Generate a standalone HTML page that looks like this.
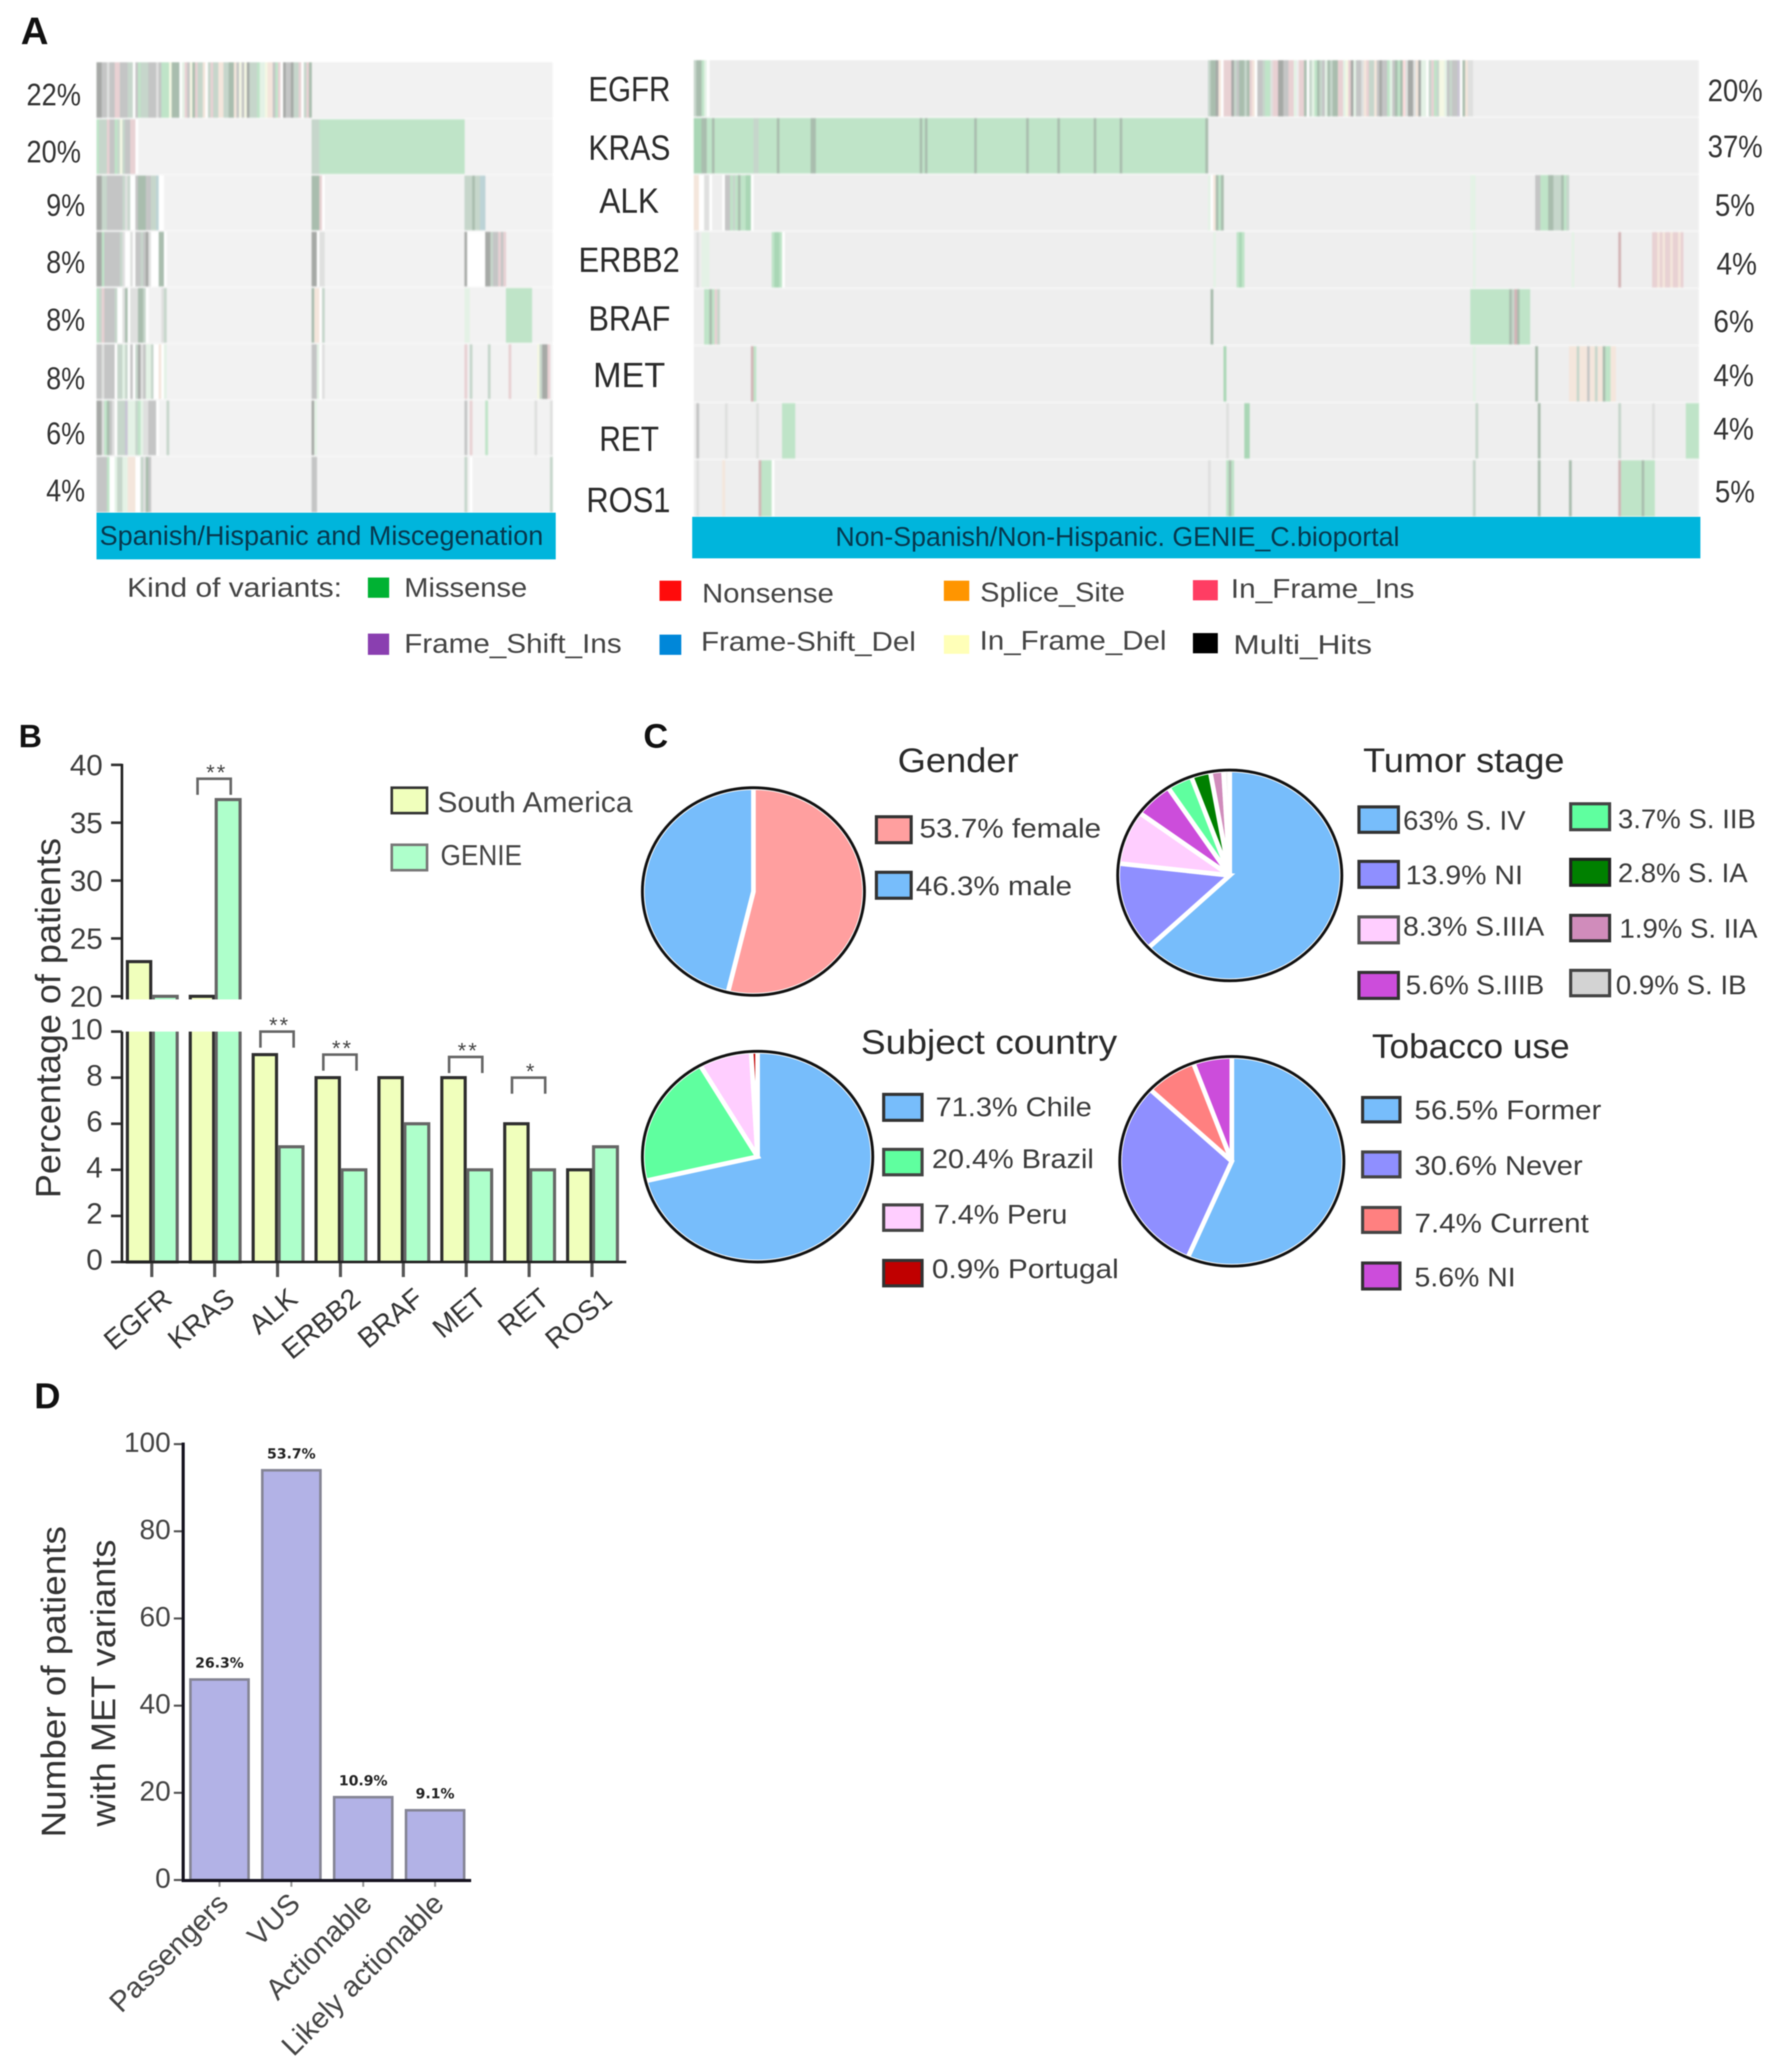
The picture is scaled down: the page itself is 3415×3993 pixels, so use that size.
<!DOCTYPE html>
<html lang="en">
<head>
<meta charset="utf-8">
<title>Genomic and clinical characteristics figure</title>
<style>
html,body{margin:0;padding:0;background:#fff;width:3415px;height:3993px;overflow:hidden}
svg{display:block;filter:blur(1.1px)}
text{font-family:"Liberation Sans",sans-serif;fill:#333}
.panel{font-weight:bold;fill:#111}
.gene{font-size:68px;fill:#2b2b2b}
.pct{font-size:60px;fill:#333}
.leg{font-size:52px;fill:#444}
.lgc{font-size:52px;fill:#3a3a3a}
.ttl{font-size:66px;fill:#2a2a2a}
#heatLeft,#heatRight{filter:blur(1.4px)}
</style>
</head>
<body>
<svg id="fig" xmlns="http://www.w3.org/2000/svg" width="3415" height="3993" viewBox="0 0 3415 3993">
  <rect x="0" y="0" width="3415" height="3993" fill="#fff"/>

  <text class="panel" x="40" y="85" font-size="74">A</text>
  <text class="panel" x="36" y="1440" font-size="62">B</text>
  <text class="panel" x="1240" y="1441" font-size="66">C</text>
  <text class="panel" x="66" y="2714" font-size="70">D</text>

  <g id="heatLeft"></g>
  <g id="heatRight"></g>

  <rect x="186" y="988" width="885" height="90" fill="#00b5dc"/>
  <rect x="1334" y="996" width="1943" height="80" fill="#00b5dc"/>
  <text x="192" y="1050" font-size="52" textLength="855" lengthAdjust="spacingAndGlyphs" style="fill:#07384e">Spanish/Hispanic and Miscegenation</text>
  <text x="1610" y="1052" font-size="52" textLength="1087" lengthAdjust="spacingAndGlyphs" style="fill:#07384e">Non-Spanish/Non-Hispanic. GENIE_C.bioportal</text>

  <g>
    <text class="gene" x="1134" y="195" textLength="158" lengthAdjust="spacingAndGlyphs">EGFR</text>
    <text class="gene" x="1134" y="308" textLength="158" lengthAdjust="spacingAndGlyphs">KRAS</text>
    <text class="gene" x="1155" y="410" textLength="115" lengthAdjust="spacingAndGlyphs">ALK</text>
    <text class="gene" x="1115" y="524" textLength="195" lengthAdjust="spacingAndGlyphs">ERBB2</text>
    <text class="gene" x="1134" y="637" textLength="158" lengthAdjust="spacingAndGlyphs">BRAF</text>
    <text class="gene" x="1143" y="746" textLength="139" lengthAdjust="spacingAndGlyphs">MET</text>
    <text class="gene" x="1155" y="869" textLength="115" lengthAdjust="spacingAndGlyphs">RET</text>
    <text class="gene" x="1130" y="987" textLength="162" lengthAdjust="spacingAndGlyphs">ROS1</text>
  </g>

  <g>
    <text class="pct" x="51" y="203" textLength="105" lengthAdjust="spacingAndGlyphs">22%</text>
    <text class="pct" x="51" y="313" textLength="105" lengthAdjust="spacingAndGlyphs">20%</text>
    <text class="pct" x="89" y="416" textLength="75" lengthAdjust="spacingAndGlyphs">9%</text>
    <text class="pct" x="89" y="526" textLength="75" lengthAdjust="spacingAndGlyphs">8%</text>
    <text class="pct" x="89" y="637" textLength="75" lengthAdjust="spacingAndGlyphs">8%</text>
    <text class="pct" x="89" y="750" textLength="75" lengthAdjust="spacingAndGlyphs">8%</text>
    <text class="pct" x="89" y="856" textLength="75" lengthAdjust="spacingAndGlyphs">6%</text>
    <text class="pct" x="89" y="966" textLength="75" lengthAdjust="spacingAndGlyphs">4%</text>
  </g>
  <g>
    <text class="pct" x="3291" y="195" textLength="106" lengthAdjust="spacingAndGlyphs">20%</text>
    <text class="pct" x="3291" y="303" textLength="106" lengthAdjust="spacingAndGlyphs">37%</text>
    <text class="pct" x="3305" y="416" textLength="77" lengthAdjust="spacingAndGlyphs">5%</text>
    <text class="pct" x="3308" y="529" textLength="78" lengthAdjust="spacingAndGlyphs">4%</text>
    <text class="pct" x="3302" y="640" textLength="78" lengthAdjust="spacingAndGlyphs">6%</text>
    <text class="pct" x="3302" y="744" textLength="78" lengthAdjust="spacingAndGlyphs">4%</text>
    <text class="pct" x="3302" y="847" textLength="78" lengthAdjust="spacingAndGlyphs">4%</text>
    <text class="pct" x="3305" y="968" textLength="77" lengthAdjust="spacingAndGlyphs">5%</text>
  </g>

  <g>
    <text class="leg" x="245" y="1150" textLength="414" lengthAdjust="spacingAndGlyphs">Kind of variants:</text>
    <rect x="709" y="1113" width="41" height="39" fill="#00b233"/>
    <text class="leg" x="779" y="1150" textLength="237" lengthAdjust="spacingAndGlyphs">Missense</text>
    <rect x="1271" y="1119" width="42" height="39" fill="#ff0b0b"/>
    <text class="leg" x="1353" y="1161" textLength="254" lengthAdjust="spacingAndGlyphs">Nonsense</text>
    <rect x="1819" y="1119" width="49" height="39" fill="#ff9500"/>
    <text class="leg" x="1889" y="1159" textLength="279" lengthAdjust="spacingAndGlyphs">Splice_Site</text>
    <rect x="2299" y="1118" width="48" height="39" fill="#ff3d63"/>
    <text class="leg" x="2372" y="1152" textLength="354" lengthAdjust="spacingAndGlyphs">In_Frame_Ins</text>
    <rect x="709" y="1221" width="41" height="41" fill="#8a3fb0"/>
    <text class="leg" x="779" y="1258" textLength="419" lengthAdjust="spacingAndGlyphs">Frame_Shift_Ins</text>
    <rect x="1271" y="1223" width="42" height="39" fill="#0087d9"/>
    <text class="leg" x="1351" y="1254" textLength="414" lengthAdjust="spacingAndGlyphs">Frame-Shift_Del</text>
    <rect x="1819" y="1224" width="49" height="36" fill="#ffffb8"/>
    <text class="leg" x="1888" y="1252" textLength="360" lengthAdjust="spacingAndGlyphs">In_Frame_Del</text>
    <rect x="2299" y="1220" width="48" height="39" fill="#000"/>
    <text class="leg" x="2377" y="1260" textLength="267" lengthAdjust="spacingAndGlyphs">Multi_Hits</text>
  </g>

  <g id="chartB"></g>
  <text font-size="68" transform="translate(116,2309) rotate(-90)" textLength="694" lengthAdjust="spacingAndGlyphs" style="fill:#333">Percentage of patients</text>
  <g>
    <rect x="755" y="1518" width="68" height="49" fill="#f0ffbc" stroke="#333" stroke-width="5"/>
    <text x="843" y="1565" font-size="56" textLength="376" lengthAdjust="spacingAndGlyphs" style="fill:#444">South America</text>
    <rect x="755" y="1628" width="68" height="49" fill="#aeffcb" stroke="#777" stroke-width="5"/>
    <text x="849" y="1667" font-size="56" textLength="157" lengthAdjust="spacingAndGlyphs" style="fill:#444">GENIE</text>
  </g>

  <g id="pieGender"></g>
  <g id="pieTumor"></g>
  <g id="pieCountry"></g>
  <g id="pieTobacco"></g>

  <text class="ttl" x="1730" y="1488" textLength="233" lengthAdjust="spacingAndGlyphs">Gender</text>
  <text class="ttl" x="2627" y="1488" textLength="388" lengthAdjust="spacingAndGlyphs">Tumor stage</text>
  <text class="ttl" x="1659" y="2031" textLength="494" lengthAdjust="spacingAndGlyphs">Subject country</text>
  <text class="ttl" x="2644" y="2039" textLength="381" lengthAdjust="spacingAndGlyphs">Tobacco use</text>

  <g>
    <rect x="1689" y="1574" width="67" height="50" fill="#ff9f9f" stroke="#333" stroke-width="6"/>
    <text class="lgc" x="1772" y="1614" textLength="350" lengthAdjust="spacingAndGlyphs">53.7% female</text>
    <rect x="1689" y="1681" width="67" height="50" fill="#77bdfb" stroke="#333" stroke-width="6"/>
    <text class="lgc" x="1765" y="1725" textLength="301" lengthAdjust="spacingAndGlyphs">46.3% male</text>
  </g>
  <g>
    <rect x="2619" y="1555" width="76" height="49" fill="#77bdfb" stroke="#333" stroke-width="6"/>
    <text class="lgc" x="2704" y="1599" textLength="236" lengthAdjust="spacingAndGlyphs">63% S. IV</text>
    <rect x="2619" y="1660" width="76" height="50" fill="#8f8fff" stroke="#333" stroke-width="6"/>
    <text class="lgc" x="2709" y="1704" textLength="226" lengthAdjust="spacingAndGlyphs">13.9% NI</text>
    <rect x="2619" y="1767" width="76" height="50" fill="#ffceff" stroke="#555" stroke-width="6"/>
    <text class="lgc" x="2704" y="1803" textLength="272" lengthAdjust="spacingAndGlyphs">8.3% S.IIIA</text>
    <rect x="2619" y="1874" width="76" height="50" fill="#cc4ddb" stroke="#333" stroke-width="6"/>
    <text class="lgc" x="2709" y="1916" textLength="267" lengthAdjust="spacingAndGlyphs">5.6% S.IIIB</text>
    <rect x="3027" y="1549" width="75" height="50" fill="#5fff9f" stroke="#444" stroke-width="6"/>
    <text class="lgc" x="3118" y="1596" textLength="266" lengthAdjust="spacingAndGlyphs">3.7% S. IIB</text>
    <rect x="3027" y="1656" width="75" height="50" fill="#008000" stroke="#222" stroke-width="6"/>
    <text class="lgc" x="3118" y="1700" textLength="250" lengthAdjust="spacingAndGlyphs">2.8% S. IA</text>
    <rect x="3027" y="1764" width="75" height="49" fill="#d08cbb" stroke="#333" stroke-width="6"/>
    <text class="lgc" x="3121" y="1807" textLength="266" lengthAdjust="spacingAndGlyphs">1.9% S. IIA</text>
    <rect x="3027" y="1870" width="75" height="49" fill="#d3d3d3" stroke="#444" stroke-width="6"/>
    <text class="lgc" x="3114" y="1916" textLength="252" lengthAdjust="spacingAndGlyphs">0.9% S. IB</text>
  </g>
  <g>
    <rect x="1703" y="2109" width="74" height="50" fill="#77bdfb" stroke="#333" stroke-width="6"/>
    <text class="lgc" x="1803" y="2151" textLength="301" lengthAdjust="spacingAndGlyphs">71.3% Chile</text>
    <rect x="1703" y="2215" width="74" height="49" fill="#5fff9f" stroke="#444" stroke-width="6"/>
    <text class="lgc" x="1796" y="2251" textLength="312" lengthAdjust="spacingAndGlyphs">20.4% Brazil</text>
    <rect x="1703" y="2322" width="74" height="49" fill="#ffceff" stroke="#444" stroke-width="6"/>
    <text class="lgc" x="1800" y="2358" textLength="257" lengthAdjust="spacingAndGlyphs">7.4% Peru</text>
    <rect x="1703" y="2429" width="74" height="49" fill="#c00000" stroke="#333" stroke-width="6"/>
    <text class="lgc" x="1796" y="2463" textLength="360" lengthAdjust="spacingAndGlyphs">0.9% Portugal</text>
  </g>
  <g>
    <rect x="2626" y="2115" width="72" height="47" fill="#77bdfb" stroke="#333" stroke-width="6"/>
    <text class="lgc" x="2726" y="2157" textLength="360" lengthAdjust="spacingAndGlyphs">56.5% Former</text>
    <rect x="2626" y="2220" width="72" height="48" fill="#8f8fff" stroke="#444" stroke-width="6"/>
    <text class="lgc" x="2726" y="2264" textLength="324" lengthAdjust="spacingAndGlyphs">30.6% Never</text>
    <rect x="2626" y="2327" width="72" height="48" fill="#ff8080" stroke="#444" stroke-width="6"/>
    <text class="lgc" x="2726" y="2375" textLength="336" lengthAdjust="spacingAndGlyphs">7.4% Current</text>
    <rect x="2626" y="2434" width="72" height="50" fill="#cc4ddb" stroke="#333" stroke-width="6"/>
    <text class="lgc" x="2726" y="2479" textLength="195" lengthAdjust="spacingAndGlyphs">5.6% NI</text>
  </g>

  <g id="chartD"></g>
  <text font-size="66" transform="translate(126,3541) rotate(-90)" textLength="600" lengthAdjust="spacingAndGlyphs" style="fill:#333">Number of patients</text>
  <text font-size="66" transform="translate(222,3520) rotate(-90)" textLength="553" lengthAdjust="spacingAndGlyphs" style="fill:#333">with MET variants</text>
</svg>

<script>
/* Oncoprint data: one string per gene, run-length coded per sample column.
   Letter = variant shade of that sample, number = how many consecutive samples. */
const heatGenes = ['EGFR','KRAS','ALK','ERBB2','BRAF','MET','RET','ROS1'];
const hispanicRows = [
 'a2b2s1b2p2b3c2w1b1g1c3b3s1b1g3y1h3w1l1p1b1y1h1p1c2o1w1c1p1c2o2c2h2o1b1y1b1y1a1c3g1l2y1o2b1g1p1w1a1b2a1c2p1w1c1p1h1',
 'g1c3p1b2g1c1y1c1b2p2w1.67c3g56',
 'a2c2b6c1s1c1w2b1h3b2c2q1w2.57h3p1w1.54c3h1c2q2',
 'a2g1b6c1s1w2s1w1b2c1b1a1s1w3h2w1.56a2w1s2.54a1w7a2c1b2p1b1p1',
 'g1c1p1b4c1w2s1h1w1s3h2c1w1.5s1c1.56h1o2w1c1.54l2.14g10',
 'b2s1b4w1c2l1c1w1b1w1c1a1s1b1l2c1w2o1w1l1.56b2l1w1s1.54p1.1c1.6c1.7p1.10y1c1a2p1',
 'a2s1g1h1b1s1w1c3u1l3c1g1l1s2b3w1.3c1.55a1l1.57b1.1p1.5g1.18s1.5s1',
 'b4g1w2l1c2l2o3w2c1s1h1b1.62b2.57c1.1w1.30c1'
];
const genieRows = [
 'c1h2g1l1w1.192c1h2a1o1w1p3a1c1b1h2c1h1p1o1w1b2c1g2s1p2a2b2p2l1.1p2h1w1c1l1g1h1c1b1l1h1c1h2p2l1y1p1a1l1b2s1o1p1c2o1b1a1b2g1l1b1h1g1h1P1s1a2s1o1a1l2w1c1p1g1c1y2l1b1c1b2u1w1h1o1s2',
 'G3h2g2h1g15c2g7h1g12h2g40h1g1h1g18h1g19h1g11h1g13h1g9h1g32h1',
 'o2w2s2w1.4w1b2g1c1g1h1g2G2w1.175l1w1o1h1g1h1.95l2.23b2g3h2c3h1g1c1',
 '.1s1.1l3.24g1G2g1w1.165l1.8g1G1g1.88l1.37l1.17d1.12p2o1p1o1p2o1p2o1p1',
 '.4g2h1g1p1c1.189h1.99g15h1c1d1h1g4',
 '.22d1g1.180G1.95l1.23h1.12o3c1o3b1o2c1o2h1g2o2',
 '.1b1.10s1.11s1.9g5.166s1.6G2.87c1.23h1.30c1.12s1.12g5',
 '.1s1.9o1.13d1g4w1.167s1.6g1h1g1.92c1.24h1.11h1.18d1g8h1g4'
];

/* Panel B data */
const geneCategories = ['EGFR','KRAS','ALK','ERBB2','BRAF','MET','RET','ROS1'];
const southAmericaValues = [23,20,9,8,8,8,6,4];
const genieValues = [20,37,5,4,6,4,4,5];
const upperTickLabels = [20,25,30,35,40];
const lowerTickLabels = [0,2,4,6,8,10];
const significanceGenes = ['KRAS','ALK','ERBB2','MET','RET'];
const significanceMarks = ['**','**','**','**','*'];
const significanceLevels = [38.8,10,9,8.9,8];

/* Panel C data */
const genderValues = [53.7,46.3];
const tumorStageValues = [63,13.9,8.3,5.6,3.7,2.8,1.9,0.9];
const countryValues = [71.3,20.4,7.4,0.9];
const tobaccoValues = [56.5,30.6,7.4,5.6];

/* Panel D data */
const metCategories = ['Passengers','VUS','Actionable','Likely actionable'];
const metCounts = [46,94,19,16];
const metPercentLabels = ['26.3%','53.7%','10.9%','9.1%'];
const metTickLabels = [0,20,40,60,80,100];

const NS = 'http://www.w3.org/2000/svg';
function make(parent, tag, attrs, text){
  const el = document.createElementNS(NS, tag);
  for (const k in attrs) el.setAttribute(k, attrs[k]);
  if (text !== undefined) el.textContent = text;
  parent.appendChild(el);
  return el;
}

/* ---------- Panel A ---------- */
const shade = {a:'#a6a9a6',b:'#c4c5c5',c:'#c6d6cb',g:'#bfe4c8',G:'#a9d6b5',h:'#a9bdae',l:'#e4f2e6',p:'#e8d1d3',P:'#fbdcdc',o:'#f4e6dc',s:'#dfe0df',w:'#ffffff',y:'#f5f8e4',q:'#bcd3d6',u:'#c8c4d2',d:'#d3b4b6'};
function drawHeat(group, rows, frame, prefix){
  const bg = make(group, 'rect', {x:frame.x, y:frame.y, width:frame.cols*frame.cell, height:frame.rowH*rows.length, fill:frame.bg});
  
  
  rows.forEach(function(row, r){
    const y = frame.y + r*frame.rowH;
    const re = /([a-zA-Z.])(\d*)/g;
    let m, col = 0;
    while ((m = re.exec(row))){
      const n = m[2] === '' ? 1 : parseInt(m[2], 10);
      if (m[1] !== '.'){
        const cell = make(group, 'rect', {x:frame.x+col*frame.cell, y:y, width:n*frame.cell+0.4, height:frame.rowH, fill:shade[m[1]]});
        
        
      }
      col += n;
    }
    if (r > 0){
      const sep = make(group, 'rect', {x:frame.x, y:y-2, width:frame.cols*frame.cell, height:4, fill:'#f7f7f7', opacity:0.75});
      
      
    }
  });
}
drawHeat(document.getElementById('heatLeft'), hispanicRows, {x:186, y:120, cols:176, cell:4.994, rowH:108.4, bg:'#f2f2f2'}, 'hispanic');
drawHeat(document.getElementById('heatRight'), genieRows, {x:1337, y:116, cols:387, cell:5.005, rowH:109.9, bg:'#eeeeee'}, 'genie');

/* ---------- Panel B ---------- */
const chartB = document.getElementById('chartB');
const bTick = function(i){ return 292.5 + 121.2*i; };
const yUpper = function(v){ return 1920 - (v-20)*22.3; };
const yLower = function(v){ return 2432 - v*44.4; };
const BREAK_TOP = 1926, BREAK_BOTTOM = 1988;
function barPieces(g, x, w, v, fill, stroke, name){
  if (v >= 20){
    const up = make(g, 'path', {d:'M'+x+' '+BREAK_TOP+'V'+yUpper(v)+'H'+(x+w)+'V'+BREAK_TOP, fill:fill, stroke:stroke, 'stroke-width':6});
    
    
  }
  const top = v > 10 ? BREAK_BOTTOM : yLower(v);
  const d = v > 10 ? 'M'+x+' '+top+'V2432H'+(x+w)+'V'+top : 'M'+x+' 2432V'+top+'H'+(x+w)+'V2432';
  const low = make(g, 'path', {d:d, fill:fill, stroke:stroke, 'stroke-width':6});
  
  
}
geneCategories.forEach(function(gene, i){
  const t = bTick(i);
  barPieces(chartB, t-47, 45, southAmericaValues[i], '#f0ffbc', '#2e2e2e', 'bar-south-america-' + gene.toLowerCase());
  barPieces(chartB, t+3, 46, genieValues[i], '#aeffcb', '#666', 'bar-genie-' + gene.toLowerCase());
  const tick = make(chartB, 'line', {x1:t, x2:t, y1:2432, y2:2461, stroke:'#555', 'stroke-width':6});
  
  
  const lab = make(chartB, 'text', {'text-anchor':'end', 'font-size':54, transform:'translate('+(t+42)+',2508) rotate(-40)'}, gene);
  
  
});
function bAxisTicks(list, yFn, key, shift){
  list.forEach(function(v){
    const y = yFn(v);
    const tk = make(chartB, 'line', {x1:214, x2:235, y1:y, y2:y, stroke:'#333', 'stroke-width':5});
    
    
    const tx = make(chartB, 'text', {x:198, y:y+shift, 'text-anchor':'end', 'font-size':57, style:'fill:#3d3d3d'}, String(v));
    
    
  });
}
bAxisTicks(upperTickLabels, yUpper, 'y-upper', 20);
bAxisTicks(lowerTickLabels, yLower, 'y-lower', 15);
const axU = make(chartB, 'line', {x1:235, x2:235, y1:1472, y2:BREAK_TOP, stroke:'#222', 'stroke-width':5});


const axL = make(chartB, 'line', {x1:235, x2:235, y1:BREAK_BOTTOM, y2:2434, stroke:'#222', 'stroke-width':5});


const axX = make(chartB, 'line', {x1:233, x2:1207, y1:2432, y2:2432, stroke:'#222', 'stroke-width':5});


significanceGenes.forEach(function(gene, i){
  const idx = geneCategories.indexOf(gene);
  const t = bTick(idx);
  const level = significanceLevels[i];
  const yTop = level >= 20 ? yUpper(level) : yLower(level);
  const br = make(chartB, 'path', {d:'M'+(t-33)+' '+(yTop+31)+'V'+yTop+'H'+(t+31)+'V'+(yTop+31), fill:'none', stroke:'#666', 'stroke-width':5});
  
  
  const st = make(chartB, 'text', {x:t+4, y:yTop+2, 'text-anchor':'middle', 'font-size':42, 'letter-spacing':4, style:'fill:#444'}, significanceMarks[i]);
  
  
});

/* ---------- Panel C ---------- */
function drawPie(id, values, colors, c, key){
  const g = document.getElementById(id);
  const total = values.reduce(function(a,b){ return a+b; }, 0);
  let acc = 0;
  values.forEach(function(v, i){
    const a0 = acc/total*2*Math.PI;
    acc += v;
    const a1 = acc/total*2*Math.PI;
    const large = (a1-a0) > Math.PI ? 1 : 0;
    const d = 'M'+c.x+' '+c.y+'L'+(c.x+c.rx*Math.sin(a0))+' '+(c.y-c.ry*Math.cos(a0))+
      'A'+c.rx+' '+c.ry+' 0 '+large+' 1 '+(c.x+c.rx*Math.sin(a1))+' '+(c.y-c.ry*Math.cos(a1))+'Z';
    const s = make(g, 'path', {d:d, fill:colors[i], stroke:'#fff', 'stroke-width':9, 'stroke-linejoin':'miter'});
    
    
  });
  const o = make(g, 'ellipse', {cx:c.x, cy:c.y, rx:c.rx, ry:c.ry, fill:'none', stroke:'#111', 'stroke-width':5.5});
  
  
}
drawPie('pieGender', genderValues, ['#ff9f9f','#77bdfb'], {x:1452,y:1718,rx:214,ry:200}, 'gender');
drawPie('pieTumor', tumorStageValues, ['#77bdfb','#8f8fff','#ffceff','#cc4ddb','#5fff9f','#008000','#d08cbb','#f2f2f2'], {x:2370,y:1687,rx:216,ry:203}, 'tumor-stage');
drawPie('pieCountry', countryValues, ['#77bdfb','#5fff9f','#ffceff','#c00000'], {x:1460,y:2229,rx:222,ry:203}, 'country');
drawPie('pieTobacco', tobaccoValues, ['#77bdfb','#8f8fff','#ff8080','#cc4ddb'], {x:2374,y:2238,rx:216,ry:202}, 'tobacco');

/* ---------- Panel D ---------- */
const chartD = document.getElementById('chartD');
const dY = function(v){ return 3623 - v*8.4; };
const dX = function(i){ return 367 + i*138.5; };
metCategories.forEach(function(cat, i){
  const x = dX(i), w = 112, key = cat.toLowerCase().replace(/\s+/g,'-');
  const b = make(chartD, 'rect', {x:x, y:dY(metCounts[i]), width:w, height:3623-dY(metCounts[i]), fill:'#b2b2e6', stroke:'#858595', 'stroke-width':5});
  
  
  const p = make(chartD, 'text', {x:x+w/2, y:dY(metCounts[i])-23, 'text-anchor':'middle', 'font-size':27, 'font-weight':'bold', style:'font-family:\'DejaVu Sans\',sans-serif;fill:#222'}, metPercentLabels[i]);
  
  
  const tk = make(chartD, 'line', {x1:x+w/2, x2:x+w/2, y1:3623, y2:3636, stroke:'#999', 'stroke-width':4});
  
  
  const l = make(chartD, 'text', {'text-anchor':'end', 'font-size':56, transform:'translate('+(x+w/2+20)+',3672) rotate(-45)', style:'fill:#444'}, cat);
  
  
});
metTickLabels.forEach(function(v){
  const y = dY(v);
  const tk = make(chartD, 'line', {x1:335, x2:353, y1:y, y2:y, stroke:'#555', 'stroke-width':4});
  
  
  const tx = make(chartD, 'text', {x:329, y:y+15, 'text-anchor':'end', 'font-size':54, style:'fill:#444'}, String(v));
  
  
});
const dAxY = make(chartD, 'line', {x1:353, x2:353, y1:2780, y2:3626, stroke:'#15121f', 'stroke-width':6});


const dAxX = make(chartD, 'line', {x1:350, x2:908, y1:3624, y2:3624, stroke:'#15121f', 'stroke-width':6});


</script>
</body>
</html>
